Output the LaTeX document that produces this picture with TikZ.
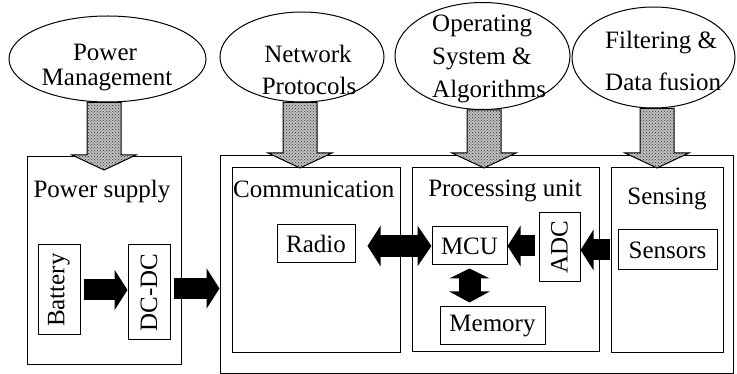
\documentclass[tikz,border=0pt]{standalone}
\usepackage{fontspec}
\setmainfont{Liberation Serif}
\usetikzlibrary{shapes.geometric,arrows.meta,patterns,calc}
\newcommand\fatdown[2]{%
  \draw[stipple] ($(#1)+(-17,0)$) -- ($(#2)+(-17,-15)$) -- ($(#2)+(-32,-15)$) -- (#2)
    -- ($(#2)+(32,-15)$) -- ($(#2)+(17,-15)$) -- ($(#1)+(17,0)$) -- cycle;}
\begin{document}
\begin{tikzpicture}[x=1pt,y=-1pt,
  every node/.style={font=\fontsize{25}{28}\selectfont, inner sep=0pt},
  ell/.style={draw, ellipse, line width=1pt},
  frame/.style={draw, line width=1pt},
  box/.style={draw, line width=1pt},
  txt/.style={anchor=base},
  txtl/.style={anchor=base west},
  stipple/.style={draw, line width=1pt, preaction={fill=gray!50}, pattern=crosshatch dots, pattern color=gray!40!black},
  blk/.style={line width=21pt, -{Triangle[length=13pt,width=40pt]}},
  blkboth/.style={line width=22pt, {Triangle[length=13pt,width=40pt]}-{Triangle[length=14pt,width=40pt]}},
  blkvert/.style={line width=22pt, {Triangle[length=10pt,width=40pt]}-{Triangle[length=11pt,width=40pt]}},
]
\useasboundingbox (0,0) rectangle (737,374);

% ellipses
\node[ell, minimum width=197, minimum height=86] (pmE) at (107.5,59) {};
\node[ell, minimum width=164, minimum height=90] (npE) at (302,57) {};
\node[ell, minimum width=175, minimum height=107] (osE) at (482.5,56) {};
\node[ell, minimum width=163, minimum height=101] (fdE) at (653.5,57.5) {};

\node[txt] (pm1) at (105,61) {Power};
\node[txt] (pm2) at (107,86) {Management};
\node[txt] (np1) at (308,63) {Network};
\node[txt] (np2) at (309,95) {Protocols};
\node[txtl] (os1) at (432,32) {Operating};
\node[txtl] (os2) at (432,65) {System \&};
\node[txtl] (os3) at (432,98) {Algorithms};
\node[txtl] (fd1) at (605,49) {Filtering \&};
\node[txtl] (fd2) at (605,91) {Data fusion};

% big boxes
\node[frame, minimum width=154, minimum height=208] (psbox) at (104,261) {};
\node[frame, minimum width=513, minimum height=217] (outer) at (476.5,264.5) {};
\node[frame, minimum width=168, minimum height=185] (comm) at (316,260.5) {};
\node[frame, minimum width=187, minimum height=184] (proc) at (505.5,260) {};
\node[frame, minimum width=112, minimum height=185] (sens) at (667,260.5) {};

\node[txt] (psl) at (102,198) {Power supply};
\node[txtl] (cml) at (233,198) {Communication};
\node[txt] (pul) at (505,197) {Processing unit};
\node[txt] (snl) at (667,205) {Sensing};

% inner boxes
\node[box, minimum width=42, minimum height=90] (bat) at (59,290) {\rotatebox{90}{Battery}};
\node[box, minimum width=42, minimum height=95] (dc) at (149,292.5) {\rotatebox{90}{DC-DC}};
\node[box, minimum width=78, minimum height=38] (radio) at (316,244) {Radio};
\node[box, minimum width=75, minimum height=38] (mcu) at (469.5,246) {MCU};
\node[box, minimum width=105, minimum height=38] (mem) at (492.5,326) {Memory};
\node[box, minimum width=41, minimum height=69] (adc) at (559.5,247.5) {\rotatebox{90}{ADC}};
\node[box, minimum width=99, minimum height=40] (sensors) at (667.5,250) {Sensors};

% stippled arrows
\coordinate (a1) at (104,170);
\coordinate (a2) at (300,168);
\coordinate (a3) at (484,168);
\coordinate (a4) at (657,168);
\path (a1 |- pmE.south) coordinate (s1);
\path (a2 |- npE.south) coordinate (s2);
\path (a3 |- osE.south) coordinate (s3);
\path (a4 |- fdE.south) coordinate (s4);
\fatdown{s1}{a1}
\fatdown{s2}{a2}
\fatdown{s3}{a3}
\fatdown{s4}{a4}

% black arrows
\draw[blk, shorten <=3pt] (bat.east) -- (bat.east -| dc.west);
\draw[blk, shorten <=3pt] ($(dc.east)+(0,-4)$) -- ($(dc.east -| outer.west)+(0,-4)$);
\draw[blkboth, shorten <=12pt] (mcu.west -| radio.east) -- (mcu.west);
\draw[blk, shorten <=4pt] (adc.west |- mcu.east) -- (mcu.east);
\draw[blk, shorten <=8pt] (sensors.west) -- (sensors.west -| adc.east);
\draw[blkvert, shorten <=3pt, shorten >=4pt] (mcu.south) -- (mcu.south |- mem.north);
\end{tikzpicture}
\end{document}
